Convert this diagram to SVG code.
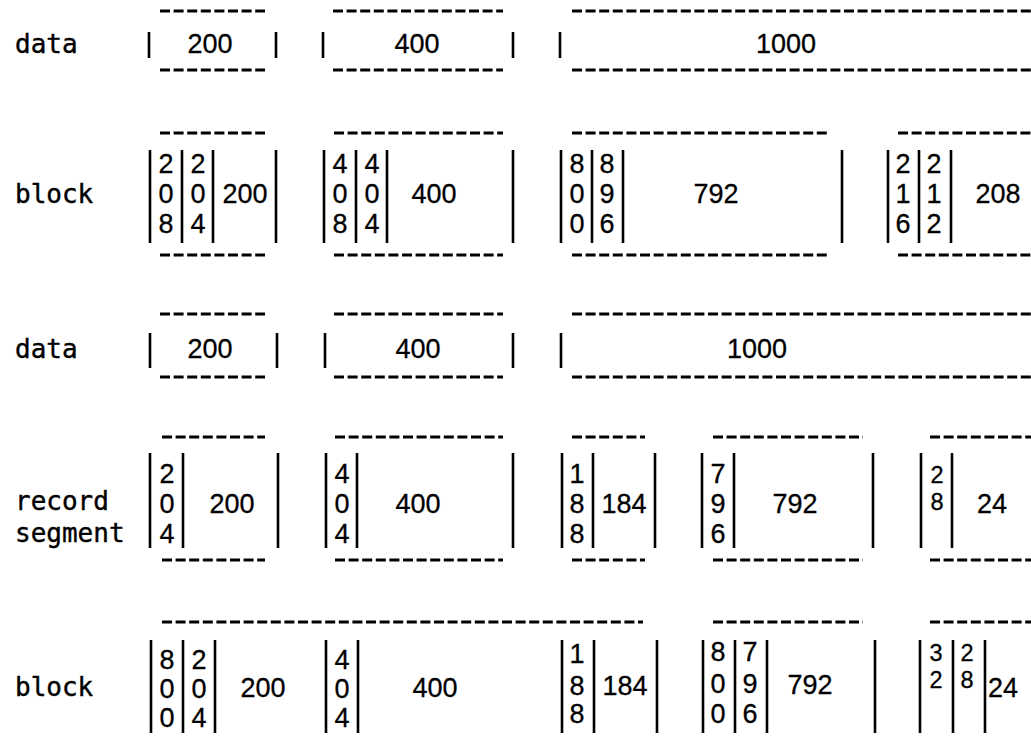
<svg xmlns="http://www.w3.org/2000/svg" width="1031" height="742" viewBox="0 0 1031 742">
<style>
.d{stroke:#000;stroke-width:3;stroke-dasharray:10 3.6;fill:none}
.b{stroke:#000;stroke-width:2.6;fill:none}
.n{font-family:"Liberation Sans",Arial,sans-serif;font-size:27px;fill:#000;text-anchor:middle;stroke:#000;stroke-width:0.3}
.s{font-size:23.5px}
.l{font-family:"DejaVu Sans Mono","Liberation Mono",monospace;font-size:26px;fill:#000;stroke:#000;stroke-width:0.4}
</style>
<rect width="1031" height="742" fill="#fff"/>

<!-- Row 1: data -->
<g id="row1">
<text class="l" x="15" y="53">data</text>
<g id="r1-seg200">
<path class="d" d="M160 11H265M160 70H265"/>
<path class="b" d="M149 32V58M276 32V58"/>
<text class="n" x="210" y="53">200</text>
</g>
<g id="r1-seg400">
<path class="d" d="M333 11H503M333 70H503"/>
<path class="b" d="M323 32V58M513 32V58"/>
<text class="n" x="417" y="53">400</text>
</g>
<g id="r1-seg1000">
<path class="d" d="M572 11H1031M572 70H1031"/>
<path class="b" d="M560 32V58"/>
<text class="n" x="786" y="53">1000</text>
</g>
</g>

<!-- Row 2: block -->
<g id="row2">
<text class="l" x="15" y="203">block</text>
<g id="r2-blk1">
<path class="d" d="M160 133H265M160 255H265"/>
<path class="b" d="M150 150V243M182 150V243M213 150V243M276 150V243"/>
<text class="n" x="166" y="173">2</text><text class="n" x="166" y="203">0</text><text class="n" x="166" y="233">8</text>
<text class="n" x="198" y="173">2</text><text class="n" x="198" y="203">0</text><text class="n" x="198" y="233">4</text>
<text class="n" x="245" y="203">200</text>
</g>
<g id="r2-blk2">
<path class="d" d="M334 133H503M334 255H503"/>
<path class="b" d="M324 150V243M356 150V243M387 150V243M513 150V243"/>
<text class="n" x="340" y="173">4</text><text class="n" x="340" y="203">0</text><text class="n" x="340" y="233">8</text>
<text class="n" x="372" y="173">4</text><text class="n" x="372" y="203">0</text><text class="n" x="372" y="233">4</text>
<text class="n" x="434" y="203">400</text>
</g>
<g id="r2-blk3">
<path class="d" d="M572 133H830M572 255H830"/>
<path class="b" d="M561 150V243M592 150V243M623 150V243M842 150V243"/>
<text class="n" x="577" y="173">8</text><text class="n" x="577" y="203">0</text><text class="n" x="577" y="233">0</text>
<text class="n" x="607" y="173">8</text><text class="n" x="607" y="203">9</text><text class="n" x="607" y="233">6</text>
<text class="n" x="716" y="203">792</text>
</g>
<g id="r2-blk4">
<path class="d" d="M898 133H1031M898 255H1031"/>
<path class="b" d="M888 150V243M919 150V243M951 150V243"/>
<text class="n" x="903" y="173">2</text><text class="n" x="903" y="203">1</text><text class="n" x="903" y="233">6</text>
<text class="n" x="934" y="173">2</text><text class="n" x="934" y="203">1</text><text class="n" x="934" y="233">2</text>
<text class="n" x="998" y="203">208</text>
</g>
</g>

<!-- Row 3: data -->
<g id="row3">
<text class="l" x="15" y="358">data</text>
<g id="r3-seg200">
<path class="d" d="M160 314H265M160 377H265"/>
<path class="b" d="M150 333V368M277 333V368"/>
<text class="n" x="210" y="358">200</text>
</g>
<g id="r3-seg400">
<path class="d" d="M334 314H503M334 377H503"/>
<path class="b" d="M325 333V368M513 333V368"/>
<text class="n" x="418" y="358">400</text>
</g>
<g id="r3-seg1000">
<path class="d" d="M572 314H1031M572 377H1031"/>
<path class="b" d="M561 333V368"/>
<text class="n" x="757" y="358">1000</text>
</g>
</g>

<!-- Row 4: record segment -->
<g id="row4">
<text class="l" x="15" y="510">record</text>
<text class="l" x="15" y="542">segment</text>
<g id="r4-rs1">
<path class="d" d="M162 437H265M162 560H265"/>
<path class="b" d="M150 453V548M183 453V548M278 453V548"/>
<text class="n" x="167" y="483">2</text><text class="n" x="167" y="513">0</text><text class="n" x="167" y="543">4</text>
<text class="n" x="232" y="513">200</text>
</g>
<g id="r4-rs2">
<path class="d" d="M335 437H503M335 560H503"/>
<path class="b" d="M326 453V548M357 453V548M513 453V548"/>
<text class="n" x="342" y="483">4</text><text class="n" x="342" y="513">0</text><text class="n" x="342" y="543">4</text>
<text class="n" x="418" y="513">400</text>
</g>
<g id="r4-rs3">
<path class="d" d="M572 437H645M572 560H645"/>
<path class="b" d="M562 453V548M593 453V548M655 453V548"/>
<text class="n" x="577" y="483">1</text><text class="n" x="577" y="513">8</text><text class="n" x="577" y="543">8</text>
<text class="n" x="624" y="513">184</text>
</g>
<g id="r4-rs4">
<path class="d" d="M713 437H863M713 560H863"/>
<path class="b" d="M702 453V548M734 453V548M873 453V548"/>
<text class="n" x="718" y="483">7</text><text class="n" x="718" y="513">9</text><text class="n" x="718" y="543">6</text>
<text class="n" x="795" y="513">792</text>
</g>
<g id="r4-rs5">
<path class="d" d="M930 437H1031M930 560H1031"/>
<path class="b" d="M921 453V548M952 453V548"/>
<text class="n s" x="937" y="483">2</text>
<text class="n s" x="937" y="510">8</text>
<text class="n" x="992" y="513">24</text>
</g>
</g>

<!-- Row 5: block -->
<g id="row5">
<text class="l" x="15" y="696">block</text>
<g id="r5-blk1">
<path class="d" d="M162 622H643"/>
<path class="b" d="M151 640V733M183 640V733M215 640V733M326 640V733M358 640V733"/>
<text class="n" x="167" y="669">8</text><text class="n" x="167" y="698">0</text><text class="n" x="167" y="727">0</text>
<text class="n" x="199" y="669">2</text><text class="n" x="199" y="698">0</text><text class="n" x="199" y="727">4</text>
<text class="n" x="263" y="697">200</text>
<text class="n" x="342" y="669">4</text><text class="n" x="342" y="698">0</text><text class="n" x="342" y="727">4</text>
<text class="n" x="435" y="697">400</text>
<path class="b" d="M562 640V733M594 640V733"/>
<text class="n" x="577" y="663">1</text><text class="n" x="577" y="695">8</text><text class="n" x="577" y="723">8</text>
<text class="n" x="625" y="695">184</text>
</g>
<g id="r5-blk2">
<path class="d" d="M713 622H863"/>
<path class="b" d="M657 640V733M703 640V733M735 640V733M767 640V733M875 640V733"/>
<text class="n" x="718" y="661">8</text><text class="n" x="718" y="693">0</text><text class="n" x="718" y="723">0</text>
<text class="n" x="750" y="661">7</text><text class="n" x="750" y="693">9</text><text class="n" x="750" y="723">6</text>
<text class="n" x="810" y="694">792</text>
</g>
<g id="r5-blk3">
<path class="d" d="M930 622H1031"/>
<path class="b" d="M920 640V733M953 640V733M985 640V733"/>
<text class="n s" x="936" y="661">3</text>
<text class="n s" x="936" y="688">2</text>
<text class="n s" x="967" y="661">2</text>
<text class="n s" x="967" y="688">8</text>
<text class="n" x="1003" y="697">24</text>
</g>
</g>
</svg>
